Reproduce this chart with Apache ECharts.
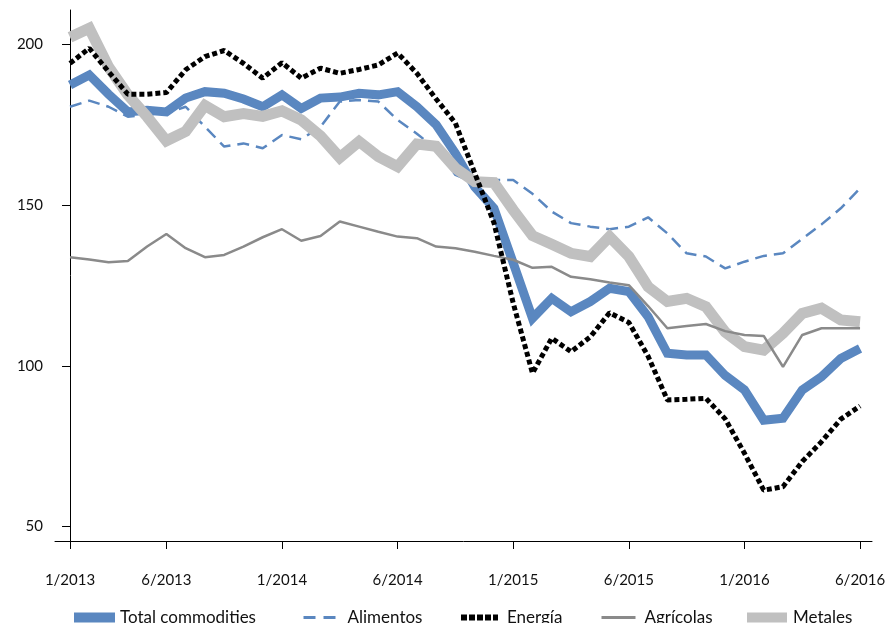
<!DOCTYPE html>
<html>
<head>
<meta charset="utf-8">
<script src="https://cdn.jsdelivr.net/npm/echarts@6/dist/echarts.min.js"></script>
<style>
  html, body { margin: 0; padding: 0; background: #fff; }
  #chart { width: 890px; height: 623px; }
</style>
</head>
<body>
<div id="chart"></div>
<script>
// meses 1/2013 .. 6/2016 (índices 0..41)
const tickIdx = [0, 5, 11, 17, 23, 29, 35, 41];
const tickLabels = ["1/2013", "6/2013", "1/2014", "6/2014", "1/2015", "6/2015", "1/2016", "6/2016"];
const yTicks = [50, 100, 150, 200];

const total = [187.4, 190.5, 184.5, 179, 179.5, 179, 183.3, 185.3, 184.8, 183, 180.6, 184.3, 180.1, 183.3,
  183.6, 184.8, 184.3, 185.3, 180.6, 175, 166.1, 155.7, 149, 132, 114.8, 121, 116.8, 120, 124.1, 123.1,
  115.3, 103.9, 103.4, 103.4, 97, 92.5, 83.1, 83.7, 92.5, 96.6, 102.3, 105.4];
const alimentos = [180.6, 182.5, 180.6, 177.5, 178.2, 178.5, 180.6, 174.4, 168.2, 169.2, 167.7, 171.8, 170.5, 174.4,
  182.2, 182.7, 182.2, 176.5, 172.2, 167.5, 159.4, 157, 157.8, 157.8, 153.5, 148, 144.4, 143.3, 142.5, 143.3,
  146.2, 141.2, 135, 134, 130.3, 132.4, 134.2, 135, 139.5, 144, 149, 155.2];
const energia = [194.1, 198.8, 191.5, 184.5, 184.5, 185, 192.1, 196.2, 198.1, 194.1, 189.5, 194.3, 189.5, 192.6,
  191, 192.2, 193.6, 197.3, 191, 183, 175.5, 160, 144.5, 119.5, 97.7, 108.6, 104.4, 109, 116.5, 113.5,
  103, 89.4, 89.6, 89.9, 83.5, 72.8, 61.3, 62.4, 70.2, 76.4, 83.4, 87.5];
const agricolas = [133.8, 133.1, 132.2, 132.6, 137.1, 141, 136.6, 133.8, 134.5, 137.1, 140, 142.5, 138.9, 140.4,
  144.9, 143.3, 141.7, 140.2, 139.7, 137.1, 136.6, 135.5, 134.2, 133, 130.5, 130.8, 127.7, 126.9, 125.9, 125.1,
  118.6, 111.7, 112.4, 113, 110.8, 109.6, 109.3, 99.7, 109.6, 111.7, 111.7, 111.7];
const metales = [202.2, 205, 193, 184.3, 177.5, 170, 172.9, 181, 177.5, 178.5, 177.6, 179.3, 176.5, 171.5,
  164.8, 169.8, 165.1, 162, 169, 168.3, 161.5, 157.3, 157, 148.5, 140.5, 137.8, 135, 134, 140.2, 134,
  124.6, 120, 121, 118.4, 110.5, 106, 104.9, 110.1, 116.3, 117.9, 114.3, 113.7];

const BLUE = "#5a87c0";
const LIGHT = "#c0c0c0";
const GREY = "#8a8a8a";
const FONT = "Lato, 'Noto Sans', sans-serif";

const pairs = (arr) => arr.map((v, i) => [i, v]);

function leg(name, left, width, pad, extra) {
  return Object.assign({
    data: [name], left: left, top: 604, itemWidth: width, itemHeight: 10,
    itemGap: 0, selectedMode: false,
    textStyle: { fontFamily: FONT, fontSize: 17, color: "#111", padding: [0, 0, 0, pad] }
  }, extra);
}

const chart = echarts.init(document.getElementById("chart"));
chart.setOption({
  animation: false,
  grid: { left: 55, right: 18, top: 10, bottom: 82, containLabel: false },
  xAxis: {
    type: "value", min: -0.78, max: 41.62,
    splitLine: { show: false },
    axisLine: { show: true, onZero: false, lineStyle: { color: "#000", width: 1 } },
    axisTick: { show: true, length: 8, customValues: tickIdx, lineStyle: { color: "#000" } },
    axisLabel: {
      customValues: tickIdx, margin: 32, fontFamily: FONT, fontSize: 15, color: "#111",
      formatter: (v) => tickLabels[tickIdx.indexOf(Math.round(v))] || ""
    }
  },
  yAxis: {
    type: "value", min: 45.5, max: 210.7,
    splitLine: { show: false },
    axisLine: { show: true, lineStyle: { color: "#000", width: 1 } },
    axisTick: { show: true, length: 8, customValues: yTicks, lineStyle: { color: "#000" } },
    axisLabel: { customValues: yTicks, margin: 12, fontFamily: FONT, fontSize: 15, color: "#111" }
  },
  legend: [
    leg("Total commodities", 69, 41, 0, { icon: "rect" }),
    leg("Alimentos", 297, 32, 7, { itemStyle: { opacity: 0 }, lineStyle: { width: 3, type: [12, 8] } }),
    leg("Energía", 453, 37, 4, { itemStyle: { opacity: 0 }, lineStyle: { width: 6, type: [6, 2] } }),
    leg("Agrícolas", 595, 34, 4, { itemStyle: { opacity: 0 }, lineStyle: { width: 3 } }),
    leg("Metales", 742, 40, 1, { icon: "rect" })
  ],
  series: [
    {
      name: "Alimentos", type: "line", data: pairs(alimentos), symbol: "none",
      lineStyle: { color: BLUE, width: 2.5, type: [12, 7] }, itemStyle: { color: BLUE }
    },
    {
      name: "Total commodities", type: "line", data: pairs(total), symbol: "none",
      lineStyle: { color: BLUE, width: 9, join: "miter" }, itemStyle: { color: BLUE }
    },
    {
      name: "Metales", type: "line", data: pairs(metales), symbol: "none",
      lineStyle: { color: LIGHT, width: 11, join: "miter" }, itemStyle: { color: LIGHT }
    },
    {
      name: "Agrícolas", type: "line", data: pairs(agricolas), symbol: "none",
      lineStyle: { color: GREY, width: 2.5 }, itemStyle: { color: GREY }
    },
    {
      name: "Energía", type: "line", data: pairs(energia), symbol: "none",
      lineStyle: { color: "#000", width: 5, type: [5, 3] }, itemStyle: { color: "#000" }
    }
  ]
});
</script>
</body>
</html>
